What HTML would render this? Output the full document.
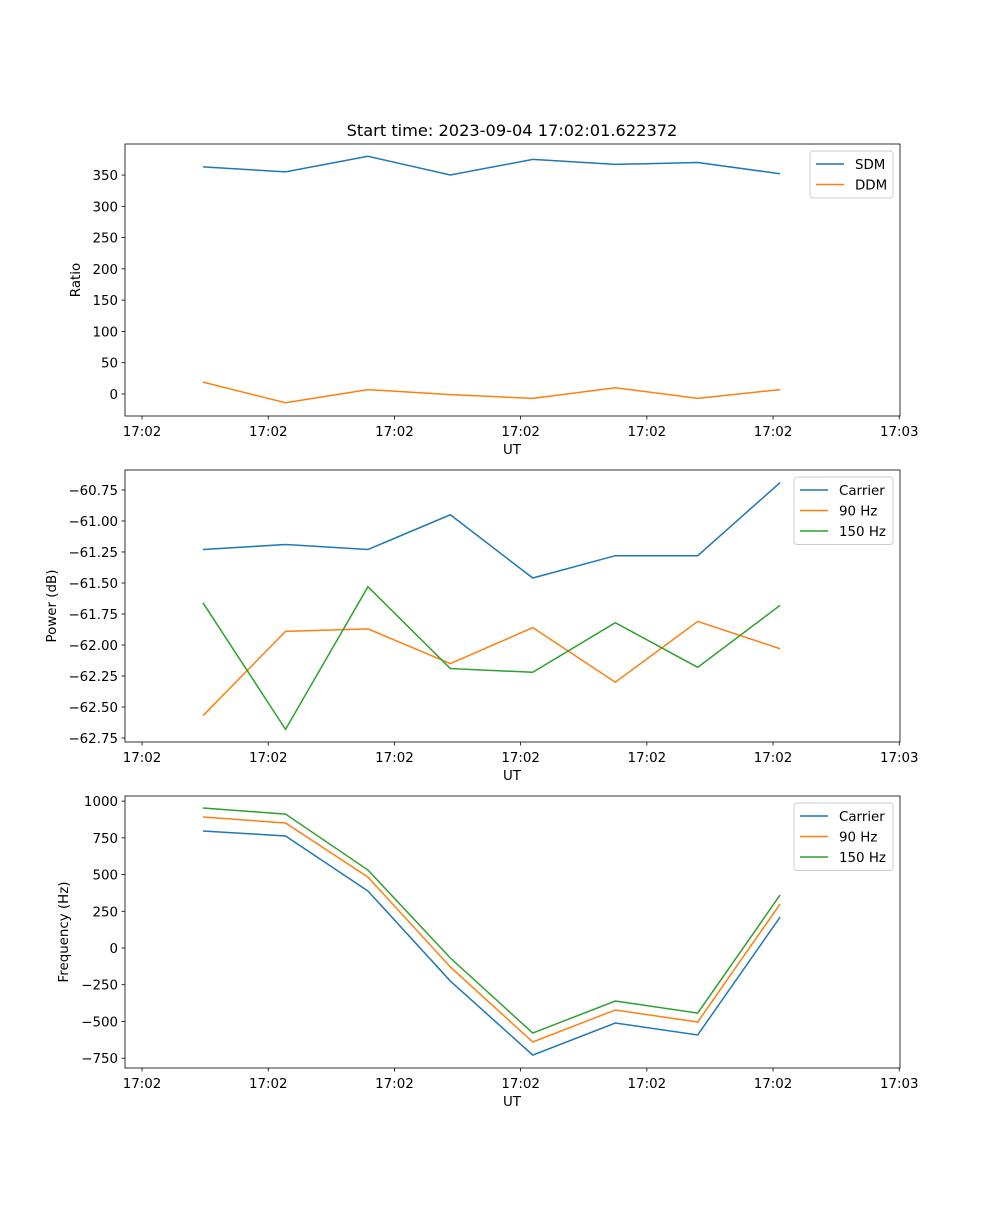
<!DOCTYPE html>
<html><head><meta charset="utf-8"><style>
body{margin:0;background:#fff}
svg text{font-family:"DejaVu Sans","Liberation Sans",sans-serif;font-size:13.4px;fill:#000}
</style></head><body>
<svg id="fig" width="1000" height="1200" xmlns="http://www.w3.org/2000/svg">
<text x="512" y="136" text-anchor="middle" style="font-size:16.2px">Start time: 2023-09-04 17:02:01.622372</text>
</svg>
<script>
const times=[4.83,11.37,17.9,24.43,30.96,37.5,44.03,50.56];
const xTicks=[0,10,20,30,40,50,60];
const xTickLabels=["17:02","17:02","17:02","17:02","17:02","17:02","17:03"];
const sdm=[363,355,380,350,375,367,370,352];
const ddm=[19,-14,7,-1,-7,10,-7,7];
const pCarrier=[-61.23,-61.19,-61.23,-60.95,-61.46,-61.28,-61.28,-60.69];
const p90=[-62.57,-61.89,-61.87,-62.15,-61.86,-62.3,-61.81,-62.03];
const p150=[-61.66,-62.68,-61.53,-62.19,-62.22,-61.82,-62.18,-61.68];
const fCarrier=[797,763,388,-225,-729,-511,-592,211];
const f90=[892,851,483,-129,-640,-422,-504,300];
const f150=[953,912,531,-68,-579,-361,-443,361];
const yTicks1=[0,50,100,150,200,250,300,350];
const yTicks2=[-62.75,-62.5,-62.25,-62,-61.75,-61.5,-61.25,-61,-60.75];
const yTicks3=[-750,-500,-250,0,250,500,750,1000];
const C=["#1f77b4","#ff7f0e","#2ca02c"];
const svg=document.getElementById('fig');
const NS="http://www.w3.org/2000/svg";
function mk(t,a,p){const e=document.createElementNS(NS,t);for(const k in a)e.setAttribute(k,a[k]);(p||svg).appendChild(e);return e;}
const L=125,R=900,xMin=-1.35,xMax=60.06;
const X=v=>L+(v-xMin)/(xMax-xMin)*(R-L);
function panel(name,top,bot,yMin,yMax,yt,fmt,ylab,series,labels,legW){
 const g=mk('g',{});
 
 
 const Y=v=>bot-(v-yMin)/(yMax-yMin)*(bot-top);
 series.forEach((s,i)=>{
  const pl=mk('polyline',{points:s.map((v,j)=>X(times[j])+','+Y(v)).join(' '),fill:'none',stroke:C[i],'stroke-width':1.5},g);
  
  
 });
 mk('rect',{x:L,y:top,width:R-L,height:bot-top,fill:'none',stroke:'#000','stroke-width':0.8},g);
 xTicks.forEach((t,i)=>{
  mk('line',{x1:X(t),x2:X(t),y1:bot,y2:bot+3.5,stroke:'#000','stroke-width':0.8},g);
  const tx=mk('text',{x:X(t),y:bot+20,'text-anchor':'middle'},g);tx.textContent=xTickLabels[i];
  
  
 });
 yt.forEach(t=>{
  mk('line',{x1:L,x2:L-3.5,y1:Y(t),y2:Y(t),stroke:'#000','stroke-width':0.8},g);
  const tx=mk('text',{x:L-7,y:Y(t)+5,'text-anchor':'end'},g);tx.textContent=fmt(t);
  
  
 });
 const xl=mk('text',{x:512,y:bot+38,'text-anchor':'middle'},g);xl.textContent='UT';
 
 
 const yl=mk('text',{x:0,y:0,'text-anchor':'middle',transform:`translate(${ylab[1]},${(top+bot)/2}) rotate(-90)`},g);yl.textContent=ylab[0];
 
 
 const lx=R-7-legW,ly=top+7,lh=labels.length*20.5+6;
 const lg=mk('g',{},g);
 
 
 mk('rect',{x:lx,y:ly,width:legW,height:lh,rx:3,fill:'#fff','fill-opacity':0.8,stroke:'#ccc'},lg);
 labels.forEach((lb,i)=>{
  const yy=ly+13+i*20.5;
  mk('line',{x1:lx+6,x2:lx+34,y1:yy,y2:yy,stroke:C[i],'stroke-width':1.5},lg);
  const t=mk('text',{x:lx+45,y:yy+5},lg);t.textContent=lb;
  
  
 });
}
panel('ratio',144,416,-35.2,399.6,yTicks1,v=>String(v),['Ratio',80],[sdm,ddm],['SDM','DDM'],83);
panel('power',470,742,-62.782,-60.589,yTicks2,v=>'\u2212'.repeat(v<0?1:0)+Math.abs(v).toFixed(2),['Power (dB)',56],[pCarrier,p90,p150],['Carrier','90 Hz','150 Hz'],99);
panel('frequency',796,1068,-817,1035,yTicks3,v=>(v<0?'\u2212':'')+Math.abs(v),['Frequency (Hz)',68],[fCarrier,f90,f150],['Carrier','90 Hz','150 Hz'],99);
</script>
</body></html>
